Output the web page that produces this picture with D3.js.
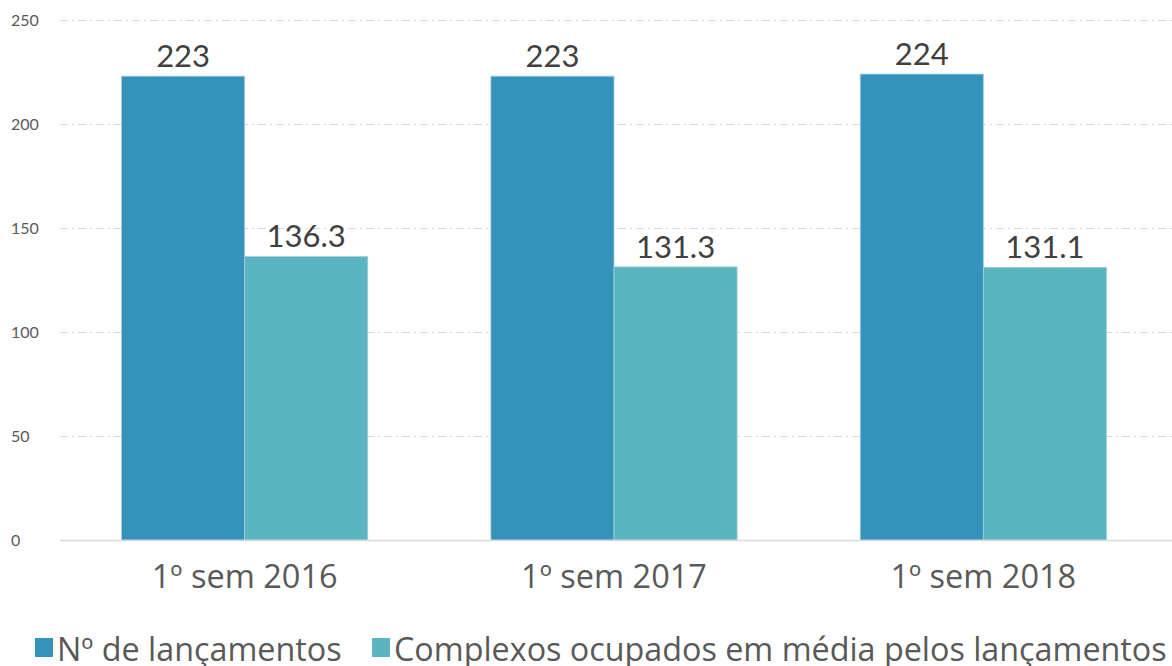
<!DOCTYPE html>
<html>
<head>
<meta charset="utf-8">
<script src="https://cdn.jsdelivr.net/npm/d3@7"></script>
<style>
  body { margin: 0; background: #fff; }
  svg { display: block; font-family: Lato, "Open Sans", sans-serif; }
</style>
</head>
<body>
<svg id="chart" width="1172" height="666"></svg>
<script>
// chart data
var categories = ["1º sem 2016", "1º sem 2017", "1º sem 2018"];
var seriesNames = ["Nº de lançamentos", "Complexos ocupados em média pelos lançamentos"];
var lancamentos = [223, 223, 224];
var complexos = [136.3, 131.3, 131.1];
var yTicks = [0, 50, 100, 150, 200, 250];

var colors = ["#3592ba", "#5ab5c0"];
var seriesValues = [lancamentos, complexos];

var svg = d3.select("#chart");

var x = d3.scaleBand()
  .domain(categories)
  .range([60, 1168])
  .paddingInner(1 / 3)
  .paddingOuter(1 / 6);

var xSub = d3.scaleBand()
  .domain(d3.range(seriesNames.length))
  .range([0, x.bandwidth()]);

var y = d3.scaleLinear()
  .domain([0, 250])
  .range([540, 20]);

// grid lines
svg.append("g")
  .selectAll("line")
  .data(yTicks.filter(function (d) { return d > 0; }))
  .enter()
  .append("line")
  .attr("x1", 60)
  .attr("x2", 1172)
  .attr("y1", function (d) { return y(d) + 0.5; })
  .attr("y2", function (d) { return y(d) + 0.5; })
  .attr("stroke", "#d9d9d9")
  .attr("stroke-width", 1)
  .attr("stroke-dasharray", "8,4,2,4");

// y tick labels
svg.append("g")
  .selectAll("text")
  .data(yTicks)
  .enter()
  .append("text")
  .attr("x", 11)
  .attr("y", function (d) { return y(d) + 6; })
  .attr("font-size", 16)
  .attr("fill", "#595959")
  .text(function (d) { return d; });

// bars
var groups = svg.append("g")
  .selectAll("g")
  .data(categories)
  .enter()
  .append("g")
  .attr("transform", function (d) { return "translate(" + x(d) + ",0)"; });

groups.selectAll("rect")
  .data(function (d, i) {
    return seriesValues.map(function (s, k) { return { k: k, v: s[i] }; });
  })
  .enter()
  .append("rect")
  .attr("x", function (d) { return xSub(d.k); })
  .attr("y", function (d) { return y(d.v); })
  .attr("width", xSub.bandwidth())
  .attr("height", function (d) { return y(0) - y(d.v); })
  .attr("fill", function (d) { return colors[d.k]; })
  .attr("stroke", "#9fd0dc")
  .attr("stroke-width", 0.8);

groups.selectAll("text")
  .data(function (d, i) {
    return seriesValues.map(function (s, k) { return { k: k, v: s[i] }; });
  })
  .enter()
  .append("text")
  .attr("x", function (d) { return xSub(d.k) + xSub.bandwidth() / 2; })
  .attr("y", function (d) { return y(d.v) - 9; })
  .attr("text-anchor", "middle")
  .attr("font-size", 31)
  .attr("fill", "#404040")
  .text(function (d) { return d.v; });

// baseline
svg.append("line")
  .attr("x1", 60)
  .attr("x2", 1172)
  .attr("y1", y(0) + 0.5)
  .attr("y2", y(0) + 0.5)
  .attr("stroke", "#d9d9d9")
  .attr("stroke-width", 1.5);

// category labels
svg.append("g")
  .selectAll("text")
  .data(categories)
  .enter()
  .append("text")
  .attr("x", function (d) { return x(d) + x.bandwidth() / 2; })
  .attr("y", 588)
  .attr("text-anchor", "middle")
  .attr("font-family", "'Open Sans', sans-serif")
  .attr("font-size", 32.5)
  .attr("fill", "#595959")
  .text(function (d) { return d; });

// legend
var legendX = [35, 372];
var legend = svg.append("g")
  .selectAll("g")
  .data(seriesNames)
  .enter()
  .append("g")
  .attr("transform", function (d, i) { return "translate(" + legendX[i] + ",0)"; });

legend.append("rect")
  .attr("x", 0)
  .attr("y", 638)
  .attr("width", 18)
  .attr("height", 19)
  .attr("fill", function (d, i) { return colors[i]; });

legend.append("text")
  .attr("x", 22)
  .attr("y", 661)
  .attr("font-family", "'Open Sans', sans-serif")
  .attr("font-size", 32.3)
  .attr("fill", "#595959")
  .text(function (d) { return d; });
</script>
</body>
</html>
